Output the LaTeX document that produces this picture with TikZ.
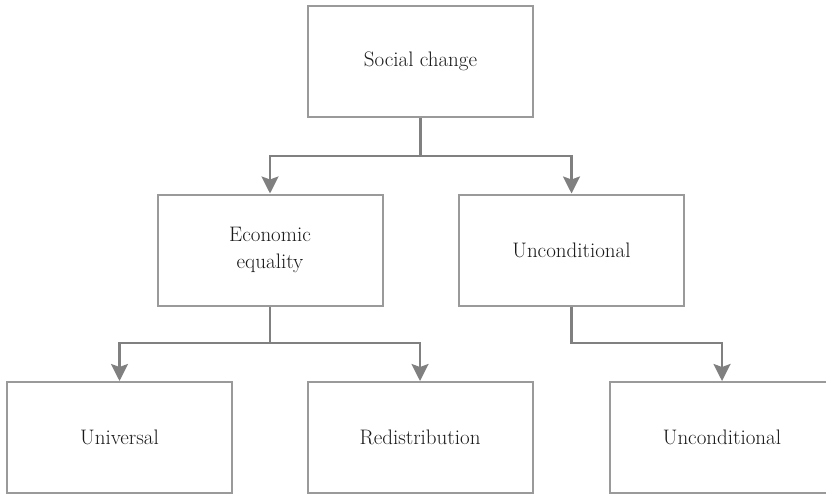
\documentclass[tikz,border=0pt]{standalone}
\usepackage{fontspec}
\usetikzlibrary{arrows.meta}
\definecolor{boxline}{HTML}{9A9A9A}
\definecolor{connline}{HTML}{808080}
\definecolor{txt}{HTML}{1A1A1A}
\begin{document}
\begin{tikzpicture}[x=1pt,y=-1pt,
  box/.style={draw=boxline, line width=2pt, fill=white, rectangle,
    minimum width=225pt, minimum height=111pt, inner sep=0pt,
    align=center, text=txt, font=\fontsize{21}{27}\selectfont},
  conn/.style={draw=connline, line width=2.5pt, line join=miter},
  arr/.style={conn, -{Stealth[length=17pt, width=17pt, inset=3pt]}}]
\useasboundingbox (0,0) rectangle (826,495);

% boxes
\node[box] (top) at (420.5,61.5) {Social change};
\node[box] (eco) at (270,250) {Economic\\equality};
\node[box] (unc) at (571.5,250) {Unconditional};
\node[box] (uni) at (119.5,437.5) {Universal};
\node[box] (red) at (420,437.5) {Redistribution};
\node[box] (unc2) at (722,437.5) {Unconditional};

% junction points of the connectors
\coordinate (j1) at (420.5,156);
\coordinate (j2) at (270,343);
\coordinate (j3) at (571.5,343);

% connectors
\draw[arr] (top.south) -- (j1) -| (eco.north);
\draw[arr] (j1) -| (unc.north);
\draw[arr] (eco.south) -- (j2) -| (uni.north);
\draw[arr] (j2) -| (red.north);
\draw[arr] (unc.south) -- (j3) -| (unc2.north);
\end{tikzpicture}
\end{document}
